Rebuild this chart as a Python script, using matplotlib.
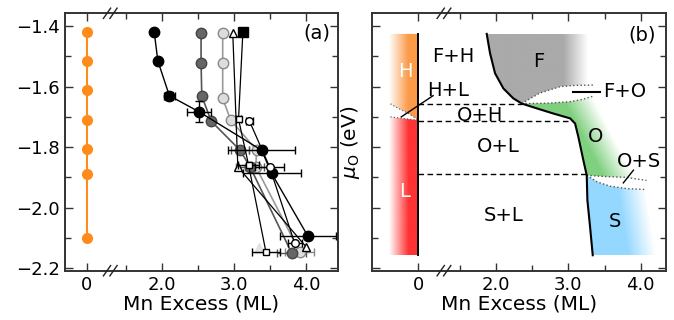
import numpy as np
import matplotlib
matplotlib.use("Agg")
import matplotlib.pyplot as plt
from matplotlib.patches import Polygon
from matplotlib.colors import to_rgb
import matplotlib.transforms as mtransforms

plt.rcParams['font.family'] = ['DejaVu Sans']
plt.rcParams['axes.unicode_minus'] = True

# ---------------- data: panel (a) ----------------
y_orange = [-1.42, -1.515, -1.61, -1.71, -1.805, -1.89, -2.10]
x_orange = [0, 0, 0, 0, 0, 0, 0]

x_black = [1.89, 1.94, 2.10, 2.51, 3.38, 3.52, 4.02]
y_black = [-1.42, -1.515, -1.63, -1.683, -1.81, -1.887, -2.093]
xerr_black = [0, 0, 0.08, 0.17, 0.46, 0.40, 0.39]
yerr_black = [0, 0, 0, 0.035, 0, 0, 0]

x_dgray = [2.54, 2.54, 2.55, 2.68, 3.08, 3.22, 3.80]
y_dgray = [-1.424, -1.521, -1.631, -1.714, -1.81, -1.865, -2.151]
xerr_dgray = [0, 0, 0, 0, 0.12, 0.2, 0.2]

x_lgray = [2.84, 2.84, 2.84, 2.95, 3.31, 3.30, 3.91]
y_lgray = [-1.424, -1.521, -1.639, -1.71, -1.81, -1.865, -2.146]
xerr_lgray = [0, 0, 0, 0, 0.1, 0.15, 0.2]

x_tri = [2.98, 3.05, 4.00]
y_tri = [-1.424, -1.865, -2.13]

x_sq = [3.12, 3.06, 3.20, 3.44]
y_sq = [-1.42, -1.708, -1.86, -2.146]
xerr_sq = [0, 0.03, 0.15, 0.2]

x_circ = [3.21, 3.49, 3.84]
y_circ = [-1.713, -1.865, -2.118]
xerr_circ = [0.05, 0.2, 0.1]

# ---------------- data: panel (b) ----------------
bnd_x = [1.871, 1.917, 1.986, 2.101, 2.239, 2.355, 2.563, 2.793, 3.024, 3.093,
         3.138, 3.207, 3.254, 3.263, 3.300, 3.337]
bnd_y = [-1.426, -1.490, -1.556, -1.606, -1.639, -1.656, -1.672, -1.689, -1.705,
         -1.722, -1.766, -1.843, -1.893, -1.975, -2.063, -2.157]
fo_top_x = [2.355, 2.60, 2.89, 3.10, 3.35]
fo_top_y = [-1.656, -1.622, -1.600, -1.596, -1.595]
fo_bot_x = [2.355, 2.70, 3.02, 3.20, 3.35]
fo_bot_y = [-1.656, -1.655, -1.650, -1.642, -1.631]
os_top_x = [3.254, 3.50, 3.81, 4.08]
os_top_y = [-1.893, -1.897, -1.900, -1.910]
os_bot_x = [3.254, 3.40, 3.58, 3.81, 4.08]
os_bot_y = [-1.893, -1.915, -1.929, -1.937, -1.940]
dash_y = [-1.658, -1.714, -1.890]
dash_xend = [2.355, 3.05, 3.25]

XA0 = 0.953   # plotted position of "0" in panel (a)
XB0 = 0.925   # plotted position of "0" in panel (b)

fig = plt.figure(figsize=(6.74, 3.2), dpi=100)
axa = fig.add_axes([65/674, 1-270.7/320, 273/674, 257.4/320])
axb = fig.add_axes([372.3/674, 1-270.7/320, 293.7/674, 257.4/320])

TICKFS = 13
LBLFS = 14.5

def style(ax, x0, xlim):
    ax.set_xlim(*xlim)
    ax.set_ylim(-2.208, -1.358)
    ax.set_xticks([x0, 2, 3, 4])
    ax.set_xticklabels(['0', '2.0', '3.0', '4.0'])
    ax.set_xticks([1.5, 2.5, 3.5], minor=True)
    ax.set_yticks([-1.4, -1.6, -1.8, -2.0, -2.2])
    ax.set_yticks(np.arange(-2.2, -1.35, 0.1), minor=True)
    ax.tick_params(which='both', direction='in', top=True, right=True,
                   labelsize=TICKFS, color='#333333', width=1.0)
    ax.tick_params(which='major', length=6)
    ax.tick_params(which='minor', length=4)
    for s in ax.spines.values():
        s.set_linewidth(1.4)
        s.set_color('#333333')
    ax.set_xlabel('Mn Excess (ML)', fontsize=LBLFS, labelpad=1)
    # break marks
    tr = mtransforms.blended_transform_factory(ax.transData, ax.transAxes)
    xb = 1.28
    for yc in (0.0, 1.0):
        for dx in (-0.045, 0.045):
            ax.plot([xb + dx - 0.05, xb + dx + 0.05], [yc - 0.02, yc + 0.02],
                    color='#222222', lw=1.0, transform=tr, clip_on=False, zorder=10)

# ---------------- panel (a) ----------------
style(axa, XA0, (0.652, 4.44))
axa.set_yticklabels(['−1.4', '−1.6', '−1.8', '−2.0', '−2.2'])
xo = [XA0 + v for v in x_orange]
axa.plot(xo, y_orange, '-o', color='#ff8c1a', ms=7, lw=1.5, zorder=3)

ekw = dict(capsize=3, elinewidth=1.0, capthick=1.0)
axa.errorbar(x_lgray, y_lgray, xerr=xerr_lgray, fmt='-o', color='#999999', mfc='#dddddd',
             mec='#888888', ms=7.5, lw=1.2, ecolor='#888888', zorder=4, **ekw)
axa.errorbar(x_dgray, y_dgray, xerr=xerr_dgray, fmt='-o', color='#555555', mfc='#666666',
             mec='#444444', ms=7.5, lw=1.2, ecolor='#555555', zorder=4, **ekw)
axa.errorbar(x_black, y_black, xerr=xerr_black, yerr=yerr_black, fmt='-o', color='black',
             mfc='black', mec='black', ms=7.5, lw=1.0, ecolor='black', zorder=5, **ekw)
axa.plot([2.10], [-1.63], 's', color='black', ms=6, zorder=6)
axa.plot(x_tri, y_tri, '-^', color='black', mfc='white', mec='black', ms=6, lw=0.9, zorder=5)
axa.errorbar(x_sq, y_sq, xerr=xerr_sq, fmt='-s', color='black', mfc='white', mec='black',
             ms=5, lw=0.9, ecolor='black', zorder=5, **ekw)
axa.plot([x_sq[0]], [y_sq[0]], 's', color='black', ms=7, zorder=6)
axa.errorbar(x_circ, y_circ, xerr=xerr_circ, fmt='-o', color='black', mfc='white', mec='black',
             ms=5.5, lw=0.9, ecolor='black', zorder=5, **ekw)
axa.plot([3.35], [-2.134], '^', color='#dddddd', ms=7, alpha=0.8, zorder=3)
axa.text(4.14, -1.424, '(a)', fontsize=14, ha='center', va='center')

# ---------------- panel (b) ----------------
style(axb, XB0, (0.289, 4.35))
axb.set_yticklabels([])
axb.set_ylabel(r'$\mu_{\rm O}$ (eV)', fontsize=LBLFS, labelpad=4)

def grad_fill(ax, poly, color, alpha_fn, zorder=1):
    poly = np.asarray(poly)
    x0, x1 = poly[:, 0].min(), poly[:, 0].max()
    y0, y1 = poly[:, 1].min(), poly[:, 1].max()
    nx, ny = 300, 200
    X, Y = np.meshgrid(np.linspace(x0, x1, nx), np.linspace(y0, y1, ny))
    A = np.clip(alpha_fn(X, Y), 0, 1)
    img = np.zeros((ny, nx, 4))
    img[..., :3] = to_rgb(color)
    img[..., 3] = A
    im = ax.imshow(img, extent=(x0, x1, y0, y1), origin='lower', aspect='auto',
                   interpolation='bilinear', zorder=zorder)
    patch = Polygon(poly, closed=True, transform=ax.transData)
    im.set_clip_path(patch)
    return im

YT, YB = -1.426, -2.157
BL = 0.524
# H and L bands
h_poly = [(BL, YT), (XB0, YT), (XB0, -1.711), (0.80, -1.690), (0.65, -1.672), (BL, -1.656)]
l_poly = [(BL, -1.700), (0.70, -1.705), (XB0, -1.711), (XB0, YB), (BL, YB)]
band_alpha = lambda X, Y: (X - BL) / 0.26
grad_fill(axb, h_poly, '#fb9a48', band_alpha)
grad_fill(axb, l_poly, '#ff3333', band_alpha)
axb.plot([0.54, 0.65, 0.80, XB0], [-1.657, -1.672, -1.690, -1.711], ':', color='#666666', lw=0.9)
axb.plot([0.54, 0.70, XB0], [-1.700, -1.705, -1.711], ':', color='#666666', lw=0.9)
axb.plot([XB0, XB0], [YT, YB], color='black', lw=1.4, zorder=3)

# F region
i_fo = 5
f_poly = list(zip(bnd_x[:i_fo + 1], bnd_y[:i_fo + 1])) + list(zip(fo_top_x[1:], fo_top_y[1:])) + [(3.35, YT)]
grad_fill(axb, f_poly, '#aaaaaa', lambda X, Y: (3.27 - X) / 0.34)
# O region
i_os = 12
o_poly = (list(zip(fo_bot_x, fo_bot_y)) + [(4.15, -1.631), (4.15, -1.910)] +
          list(zip(os_top_x[::-1], os_top_y[::-1])) +
          list(zip(bnd_x[i_os:i_fo:-1], bnd_y[i_os:i_fo:-1])))
grad_fill(axb, o_poly, '#7fd07f',
          lambda X, Y: ((3.38 + 2.18 * (-1.66 - Y)) - X) / 0.42)
# S region
s_poly = (list(zip(bnd_x[i_os:], bnd_y[i_os:])) + [(4.35, YB), (4.35, -1.940)] +
          list(zip(os_bot_x[::-1], os_bot_y[::-1])))
grad_fill(axb, s_poly, '#94d8ff',
          lambda X, Y: ((4.05 + 0.66 * (-1.93 - Y)) - X) / 0.38)

# lens dotted edges
for xs, ys in ((fo_top_x, fo_top_y), (fo_bot_x, fo_bot_y), (os_top_x, os_top_y), (os_bot_x, os_bot_y)):
    axb.plot(xs, ys, ':', color='#555555', lw=1.0, zorder=3)

# dashed lines
for yd, xe in zip(dash_y, dash_xend):
    axb.plot([XB0, xe], [yd, yd], color='black', lw=1.0, dashes=(4, 2.5), zorder=3)

# phase boundary
axb.plot(bnd_x, bnd_y, color='black', lw=1.5, zorder=4)

# labels
tfs = 14
axb.text(1.41, -1.501, 'F+H', fontsize=tfs, ha='center', va='center')
axb.text(1.34, -1.612, 'H+L', fontsize=tfs, ha='center', va='center')
axb.plot([1.13, 0.69], [-1.63, -1.70], color='black', lw=1.0, zorder=4)
axb.text(1.78, -1.694, 'O+H', fontsize=tfs, ha='center', va='center')
axb.text(2.03, -1.799, 'O+L', fontsize=tfs, ha='center', va='center')
axb.text(2.10, -2.025, 'S+L', fontsize=tfs, ha='center', va='center')
axb.text(2.585, -1.518, 'F', fontsize=tfs, ha='center', va='center')
axb.text(3.785, -1.617, 'F+O', fontsize=tfs, ha='center', va='center')
axb.plot([3.07, 3.44], [-1.617, -1.617], color='black', lw=1.5, zorder=4)
axb.text(3.37, -1.766, 'O', fontsize=tfs, ha='center', va='center')
axb.text(3.97, -1.849, 'O+S', fontsize=tfs, ha='center', va='center')
axb.plot([3.90, 3.76], [-1.876, -1.918], color='black', lw=1.0, zorder=4)
axb.text(3.65, -2.047, 'S', fontsize=tfs, ha='center', va='center')
axb.text(0.74, -1.551, 'H', fontsize=tfs, ha='center', va='center', color='white')
axb.text(0.74, -1.948, 'L', fontsize=tfs, ha='center', va='center', color='white')
axb.text(4.015, -1.43, '(b)', fontsize=14, ha='center', va='center')

fig.savefig('out.png', dpi=100)
